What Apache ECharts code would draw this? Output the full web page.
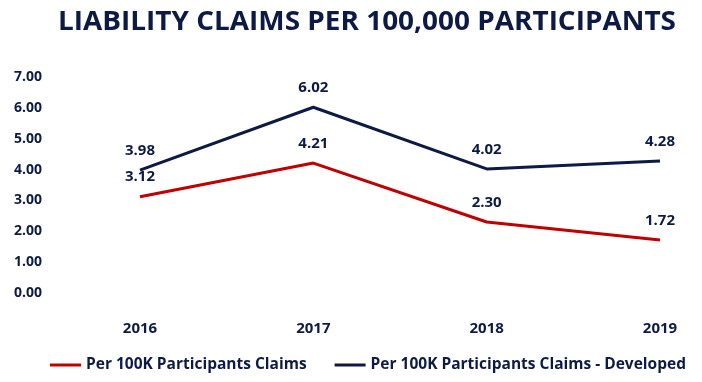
<!DOCTYPE html>
<html><head><meta charset="utf-8">
<script src="https://cdn.jsdelivr.net/npm/echarts@6/dist/echarts.min.js"></script>
<style>html,body{margin:0;padding:0;background:#fff}#c{width:702px;height:382px}</style>
</head><body><div id="c"></div>
<script>
const years = ['2016', '2017', '2018', '2019'];
const claims = [3.12, 4.21, 2.30, 1.72];
const claimsDeveloped = [3.98, 6.02, 4.02, 4.28];
const seriesNames = ['Per 100K Participants Claims', 'Per 100K Participants Claims - Developed'];
const titleText = 'LIABILITY CLAIMS PER 100,000 PARTICIPANTS';

const navy = '#0d1a44';
const red = '#c00000';
const titleFont = 'bold 27px "Open Sans"';
const cv = document.createElement('canvas').getContext('2d');
cv.font = titleFont;
const titleW = cv.measureText(titleText).width || 618;
const titleScale = 618 / titleW;

const chart = echarts.init(document.getElementById('c'));
const lbl = { show: true, position: 'top', distance: 12, formatter: p => p.value.toFixed(2), fontFamily: 'Open Sans', fontWeight: 'bold', fontSize: 15, color: navy };
chart.setOption({
  animation: false,
  graphic: [{
    type: 'text', x: 367, y: 22, scaleX: titleScale,
    style: { text: titleText, font: titleFont, fill: navy, textAlign: 'center', textVerticalAlign: 'middle' }
  }],
  legend: {
    top: 357, left: 50, padding: 0, itemWidth: 31, itemHeight: 3, itemGap: 28,
    icon: 'rect',
    textStyle: { fontFamily: 'Open Sans', fontWeight: 'bold', fontSize: 15.5, color: navy },
    data: seriesNames
  },
  grid: { left: 140, right: 42, top: 77, bottom: 89 },
  xAxis: {
    type: 'category', data: years, boundaryGap: false,
    axisLine: { show: false }, axisTick: { show: false },
    axisLabel: { margin: 28, fontFamily: 'Open Sans', fontWeight: 'bold', fontSize: 15, color: navy }
  },
  yAxis: {
    type: 'value', min: 0, max: 7, interval: 1,
    splitLine: { show: false }, axisLine: { show: false }, axisTick: { show: false },
    axisLabel: { formatter: v => v.toFixed(2), margin: 126, align: 'left', fontFamily: 'Open Sans', fontWeight: 'bold', fontSize: 14, color: navy }
  },
  series: [
    {
      name: seriesNames[0], type: 'line', data: claims, symbol: 'circle', symbolSize: 0.1, showSymbol: true,
      lineStyle: { color: red, width: 3 }, itemStyle: { color: red },
      label: lbl
    },
    {
      name: seriesNames[1], type: 'line', data: claimsDeveloped, symbol: 'circle', symbolSize: 0.1, showSymbol: true,
      lineStyle: { color: navy, width: 3 }, itemStyle: { color: navy },
      label: lbl
    }
  ]
});
</script></body></html>
